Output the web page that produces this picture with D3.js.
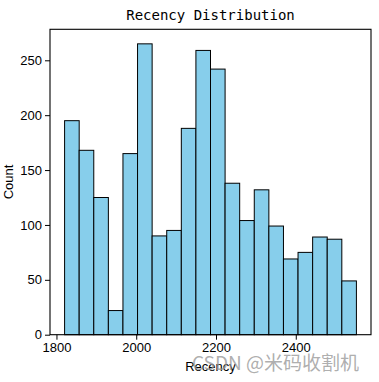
<!DOCTYPE html>
<html><head><meta charset="utf-8">
<script src="https://cdn.jsdelivr.net/npm/d3@7"></script>
<style>body{margin:0;background:#fff}</style>
</head><body><svg id="c" width="379" height="382"></svg>
<script>
const binStart = 1820.4;
const binEnd = 2552;
const counts = [195, 168, 125, 22, 165, 265, 90, 95, 188, 259, 242, 138, 104, 132, 99, 69, 75, 89, 87, 49];
const xTicks = [1800, 2000, 2200, 2400];
const yTicks = [0, 50, 100, 150, 200, 250];
const title = "Recency Distribution";
const xLabel = "Recency";
const yLabel = "Count";

const svg = d3.select("#c");
const L = 50, R = 371, T = 29.3, B = 334.7;
const n = counts.length;
const bw = (binEnd - binStart) / n;
const pad = (binEnd - binStart) * 0.05;
const x = d3.scaleLinear().domain([binStart - pad, binEnd + pad]).range([L, R]);
const y = d3.scaleLinear().domain([0, d3.max(counts) * 1.05]).range([B, T]);

svg.append("g").selectAll("rect").data(counts).join("rect")
  .attr("x", (d, i) => x(binStart + i * bw))
  .attr("width", (d, i) => x(binStart + (i + 1) * bw) - x(binStart + i * bw))
  .attr("y", d => y(d))
  .attr("height", d => B - y(d))
  .attr("fill", "#87CEEB").attr("stroke", "#000").attr("stroke-width", 1);

svg.append("rect").attr("x", L).attr("y", T).attr("width", R - L).attr("height", B - T)
  .attr("fill", "none").attr("stroke", "#000").attr("stroke-width", 1.1);

const fx = d3.axisBottom(x).tickValues(xTicks).tickSize(5).tickPadding(3).tickFormat(d3.format("d"));
const gx = svg.append("g").attr("transform", `translate(0,${B})`).call(fx);
const fy = d3.axisLeft(y).tickValues(yTicks).tickSize(5).tickPadding(3).tickFormat(d3.format("d"));
const gy = svg.append("g").attr("transform", `translate(${L},0)`).call(fy);
[gx, gy].forEach(g => {
  g.select(".domain").remove();
  g.selectAll("line").attr("stroke", "#000").attr("stroke-width", 1);
  g.selectAll("text").attr("fill", "#000").style("font-family", "Liberation Sans, Arial, sans-serif").style("font-size", "13px");
});

svg.append("text").attr("x", 210.5).attr("y", 20).attr("text-anchor", "middle")
  .style("font-family", "DejaVu Sans Mono, monospace").style("font-size", "14px").text(title);
svg.append("text").attr("x", 210.5).attr("y", 371).attr("text-anchor", "middle")
  .style("font-family", "Liberation Sans, Arial, sans-serif").style("font-size", "13px").text(xLabel);
svg.append("text").attr("transform", "translate(13,182) rotate(-90)").attr("text-anchor", "middle")
  .style("font-family", "Liberation Sans, Arial, sans-serif").style("font-size", "13px").text(yLabel);
svg.append("text").attr("x", 192).attr("y", 370)
  .attr("fill", "#999").attr("fill-opacity", 0.8)
  .style("font-family", "Noto Sans CJK SC, sans-serif").style("font-size", "19px").text("CSDN @米码收割机");
</script></body></html>
